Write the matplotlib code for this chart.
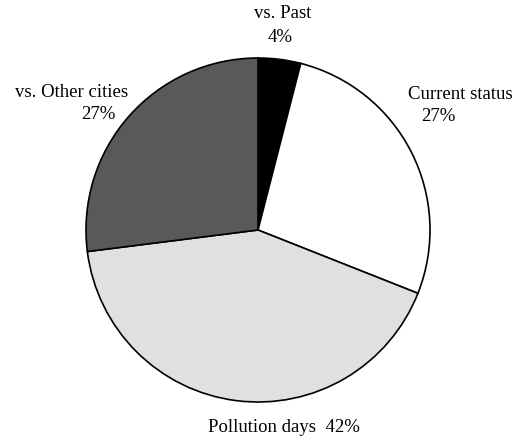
import matplotlib
matplotlib.use("Agg")
import matplotlib.pyplot as plt

labels = ["vs. Past", "Current status", "Pollution days", "vs. Other cities"]
shares = [4, 27, 42, 27]
colors = ["#000000", "#ffffff", "#e0e0e0", "#595959"]

plt.rcParams["font.family"] = ["Liberation Serif", "DejaVu Serif"]

fig = plt.figure(figsize=(5.25, 4.39), dpi=100)

# pie centre at pixel (258, 231), radius 172 px
cx, cy, r = 258, 231, 172
W, H = 525, 439
ax = fig.add_axes([(cx - r) / W, (H - cy - r) / H, 2 * r / W, 2 * r / H])

ax.pie(
    shares,
    colors=colors,
    startangle=90,
    counterclock=False,
    radius=1,
    wedgeprops=dict(edgecolor="black", linewidth=1.2),
)
ax.set_xlim(-1, 1)
ax.set_ylim(-1, 1)
ax.set_aspect("equal")
ax.axis("off")

fs = 13.5
ax.text(0.145, 1.267, labels[0], ha="center", va="center", fontsize=fs, clip_on=False)
ax.text(0.128, 1.125, f"{shares[0]}%", ha="center", va="center", fontsize=fs, clip_on=False)
ax.text(0.872, 0.791, labels[1], ha="left", va="center", fontsize=fs, clip_on=False)
ax.text(0.948, 0.663, f"{shares[1]}%", ha="left", va="center", fontsize=fs, clip_on=False)
ax.text(0.151, -1.14, f"{labels[2]}  {shares[2]}%", ha="center", va="center", fontsize=fs, clip_on=False)
ax.text(-0.756, 0.808, labels[3], ha="right", va="center", fontsize=fs, clip_on=False)
ax.text(-0.831, 0.680, f"{shares[3]}%", ha="right", va="center", fontsize=fs, clip_on=False)

fig.savefig("out.png", dpi=100)
